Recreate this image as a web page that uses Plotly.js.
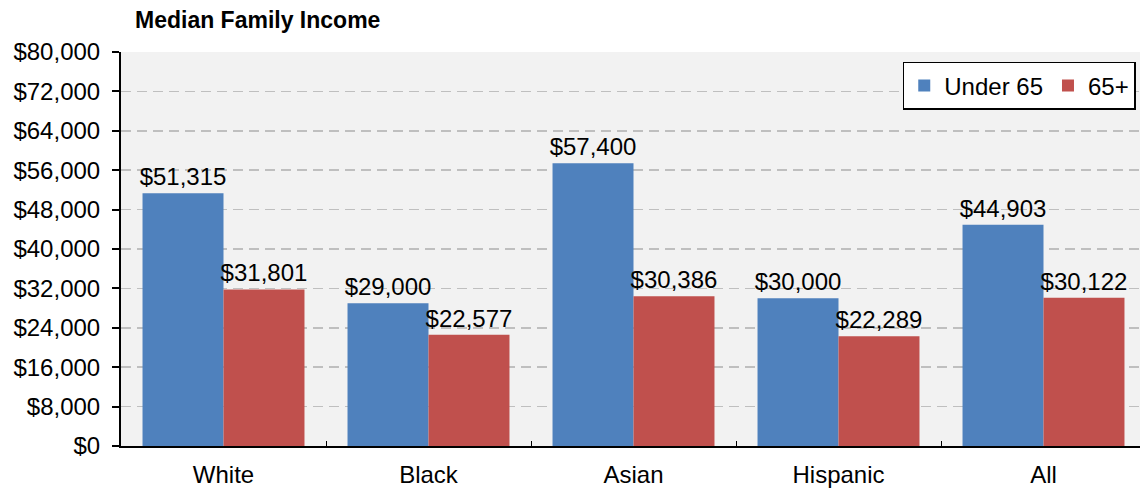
<!DOCTYPE html>
<html>
<head>
<meta charset="utf-8">
<script src="https://cdn.plot.ly/plotly-3.0.1.min.js"></script>
<style>html,body{margin:0;padding:0;background:#fff;overflow:hidden;}#chart{width:1146px;height:489px;}</style>
</head>
<body>
<div id="chart"></div>
<script>
const categories = ["White", "Black", "Asian", "Hispanic", "All"];
const under65 = [51315, 29000, 57400, 30000, 44903];
const over65 = [31801, 22577, 30386, 22289, 30122];
const seriesNames = ["Under 65", "65+"];
const tickVals = [0, 8000, 16000, 24000, 32000, 40000, 48000, 56000, 64000, 72000, 80000];
const tickText = tickVals.map(v => "$" + v.toLocaleString("en-US"));
const fmt = v => "$" + v.toLocaleString("en-US");

const font = "Liberation Sans, Arial, sans-serif";
const traces = [
  {type: "bar", name: seriesNames[0], x: categories, y: under65, marker: {color: "#4f81bd"},
   text: under65.map(fmt), textposition: "outside", cliponaxis: false, constraintext: "none",
   textfont: {family: font, size: 24, color: "#000"}, hoverinfo: "none"},
  {type: "bar", name: seriesNames[1], x: categories, y: over65, marker: {color: "#c0504d"},
   text: over65.map(fmt), textposition: "outside", cliponaxis: false, constraintext: "none",
   textfont: {family: font, size: 24, color: "#000"}, hoverinfo: "none"}
];
const layout = {
  width: 1146, height: 489,
  margin: {l: 121, r: 0, t: 52, b: 43},
  paper_bgcolor: "#ffffff", plot_bgcolor: "#f2f2f2",
  font: {family: font, size: 24, color: "#000"},
  barmode: "group", bargap: 0.21, bargroupgap: 0,
  title: {text: "<b>Median Family Income</b>", font: {family: font, size: 23, color: "#000"},
          x: 135/1146, xanchor: "left", y: 1 - 20/489, yanchor: "middle"},
  xaxis: {showgrid: false, showline: true, linecolor: "#000", linewidth: 2,
          ticks: "inside", tickson: "boundaries", ticklen: 5, tickcolor: "#000", tickwidth: 1,
          ticklabelstandoff: 6, tickfont: {family: font, size: 24}, fixedrange: true},
  yaxis: {range: [0, 80000], tickvals: tickVals, ticktext: tickText, showline: true,
          linecolor: "#000", linewidth: 2, ticks: "outside", ticklen: 7, tickcolor: "#000",
          tickwidth: 2, gridcolor: "#bfbfbf", griddash: "10px,6px", gridwidth: 1.5, zeroline: false,
          ticklabelstandoff: 7, tickfont: {family: font, size: 24}, fixedrange: true},
  showlegend: true,
  legend: {orientation: "h", x: 0.990, xanchor: "right", y: 0.975, yanchor: "top",
           bgcolor: "#fff", bordercolor: "#000", borderwidth: 1.5,
           font: {family: font, size: 24}, itemwidth: 30, traceorder: "normal"}
};
Plotly.newPlot("chart", traces, layout, {staticPlot: true, displayModeBar: false});
</script>
</body>
</html>
